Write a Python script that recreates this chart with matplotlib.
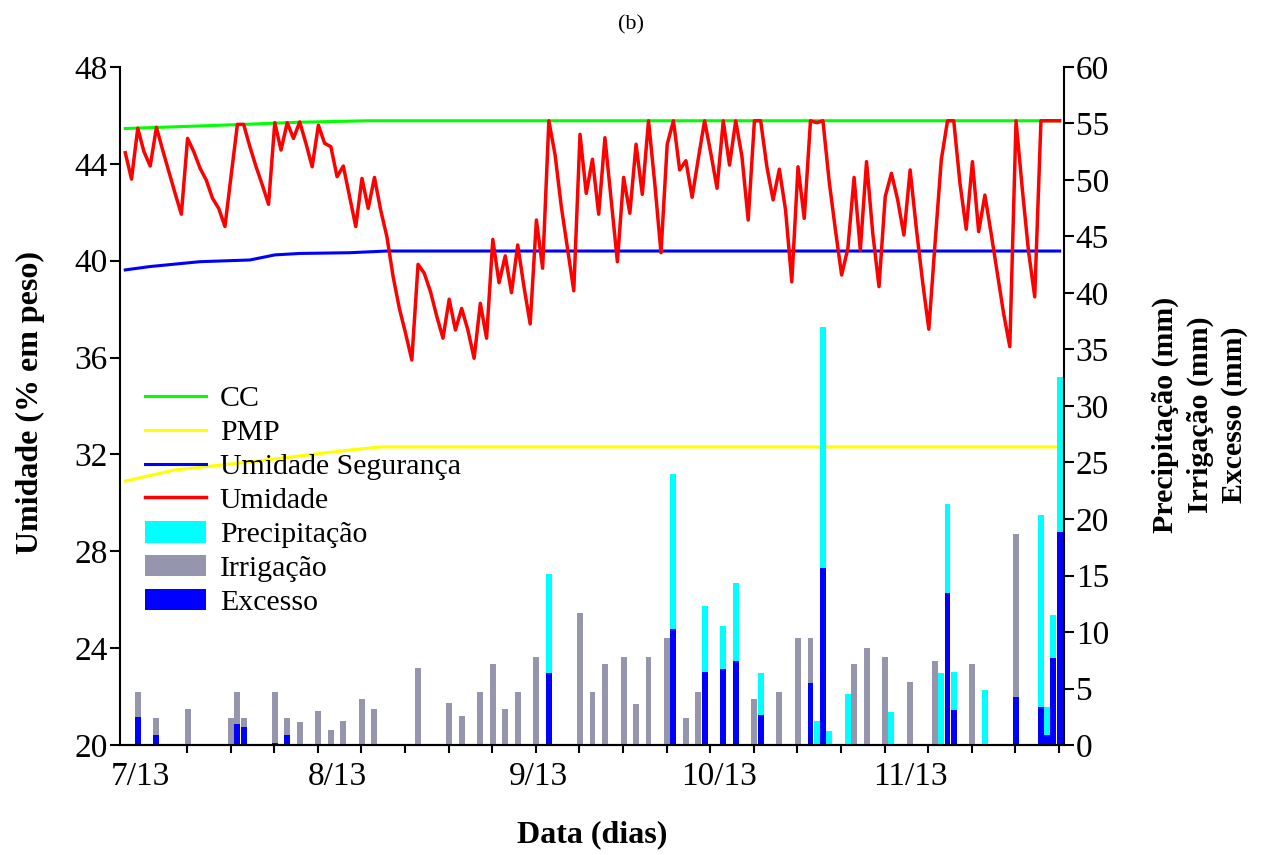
import numpy as np
import matplotlib.pyplot as plt
from matplotlib.lines import Line2D
from matplotlib.patches import Patch

plt.rcParams['font.family'] = ['Liberation Serif', 'DejaVu Serif']

# daily soil moisture (% em peso), days 2..152
days = np.arange(2, 153)
umidade = [44.46, 43.37, 45.47, 44.50, 43.91, 45.51, 44.57, 43.68, 42.78, 41.92,
           45.05, 44.50, 43.82, 43.33, 42.58, 42.16, 41.41, 43.54, 45.63, 45.63,
           44.71, 43.88, 43.13, 42.33, 45.70, 44.57, 45.70, 45.05, 45.73, 44.85,
           43.88, 45.60, 44.85, 44.71, 43.47, 43.91, 42.65, 41.41, 43.40, 42.16,
           43.44, 42.09, 40.99, 39.34, 38.03, 37.00, 35.90, 39.85, 39.48, 38.72,
           37.71, 36.80, 38.41, 37.14, 38.03, 37.14, 35.97, 38.24, 36.80, 40.88,
           39.09, 40.20, 38.68, 40.65, 38.93, 37.39, 41.68, 39.69, 45.78, 44.37,
           42.23, 40.51, 38.76, 45.22, 42.78, 44.19, 41.92, 45.08, 42.51, 39.96,
           43.44, 41.96, 44.81, 42.74, 45.78, 43.20, 40.33, 44.81, 45.78, 43.75,
           44.13, 42.62, 44.23, 45.78, 44.44, 42.99, 45.78, 43.95, 45.78, 44.30,
           41.68, 45.78, 45.78, 43.88, 42.51, 43.78, 42.09, 39.13, 43.88, 41.75,
           45.78, 45.70, 45.78, 43.28, 41.28, 39.41, 40.51, 43.44, 40.44, 44.09,
           41.13, 38.93, 42.65, 43.61, 42.51, 41.06, 43.75, 41.32, 39.13, 37.17,
           40.72, 44.16, 45.78, 45.78, 43.20, 41.30, 44.09, 41.20, 42.71, 41.13,
           39.48, 37.83, 36.45, 45.78, 42.98, 40.40, 38.51, 45.78, 45.78, 45.78,
           45.78]

cc_days = [2, 10, 21, 30, 41, 152]
cc_vals = [45.46, 45.53, 45.63, 45.72, 45.78, 45.78]
seg_days = [2, 6, 14, 22, 26, 30, 38, 44, 152]
seg_vals = [39.62, 39.76, 39.96, 40.03, 40.24, 40.30, 40.33, 40.40, 40.40]
pmp_days = [2, 10, 22, 30, 38, 43, 152]
pmp_vals = [30.90, 31.36, 31.69, 31.94, 32.18, 32.31, 32.31]

# bars (mm)
prec_days = [70, 90, 95, 98, 100, 104, 113, 114, 115, 118, 125, 133, 134, 135, 140, 149, 150, 151, 152]
prec_vals = [15.1, 23.95, 12.33, 10.53, 14.31, 6.34, 2.12, 36.96, 1.27, 4.51, 2.95, 6.34, 21.33, 6.49,
             4.87, 20.32, 3.33, 11.5, 32.54]
irr_days = [4, 7, 12, 19, 20, 21, 26, 28, 30, 33, 35, 37, 40, 42, 49, 54, 56, 59, 61, 63, 65, 68,
            75, 77, 79, 82, 84, 86, 89, 92, 94, 103, 107, 110, 112, 119, 121, 124, 128, 132, 138, 145]
irr_vals = [4.72, 2.42, 3.22, 2.42, 4.72, 2.42, 4.72, 2.42, 2.04, 3.04, 1.33, 2.15, 4.04, 3.22, 6.84,
            3.72, 2.60, 4.72, 7.14, 3.22, 4.72, 7.82, 11.71, 4.72, 7.14, 7.82, 3.60, 7.82, 9.44, 2.42,
            4.72, 4.04, 4.72, 9.44, 9.44, 7.14, 8.61, 7.82, 5.54, 7.46, 7.14, 18.64]
exc_days = [4, 7, 20, 21, 26, 28, 70, 90, 95, 98, 100, 104, 112, 114, 134, 135, 145, 149, 150, 151, 152]
exc_vals = [2.51, 0.86, 1.86, 1.62, 0.2, 0.86, 6.34, 10.24, 6.46, 6.70, 7.46, 2.65, 5.46, 15.63, 13.48,
            3.10, 4.22, 3.39, 0.89, 7.67, 18.88]

month_pos = [4.4, 36.0, 68.3, 97.3, 128.1]
month_labels = ['7/13', '8/13', '9/13', '10/13', '11/13']

green, yellow, blue, red = '#00FF00', '#FFFF00', '#0000FF', '#FF0000'
cyan, gray = '#00FFFF', '#9595AD'

fig = plt.figure(figsize=(12.69, 8.55), dpi=100)
ax = fig.add_axes([119.5/1269, 1-745/855, (1064-119.5)/1269, (745-67)/855])
ax2 = ax.twinx()

ax.plot(cc_days, cc_vals, color=green, lw=2.2)
ax.plot(pmp_days, pmp_vals, color=yellow, lw=2.2)
ax.plot(seg_days, seg_vals, color=blue, lw=2.2)
ax.plot(days, umidade, color=red, lw=2.5)

ax2.bar(prec_days, prec_vals, width=0.95, color=cyan)
ax2.bar(irr_days, irr_vals, width=0.95, color=gray)
ax2.bar(exc_days, exc_vals, width=0.95, color=blue)

ax.set_xlim(1.07, 152.7)
ax.set_ylim(20, 48)
ax.set_yticks(range(20, 49, 4))
ax2.set_ylim(0, 60)
ax2.set_yticks(range(0, 61, 5))

ax.set_xticks(month_pos)
ax.set_xticklabels(month_labels)
ax.set_xticks(np.arange(11.9, 152.5, 7), minor=True)
ax.tick_params(axis='x', which='major', length=0, pad=12, labelsize=24)
ax.tick_params(axis='x', which='minor', length=6, width=1.5)
ax.tick_params(axis='y', length=7, width=1.5, pad=1.5, labelsize=24)
ax2.tick_params(axis='y', length=7, width=1.5, pad=1.5, labelsize=24)

for a in (ax, ax2):
    a.spines['top'].set_visible(False)
    for s in a.spines.values():
        s.set_linewidth(1.5)
ax.spines['right'].set_visible(False)
ax2.spines['left'].set_visible(False)

handles = [Line2D([], [], color=green, lw=2.2),
           Line2D([], [], color=yellow, lw=2.2),
           Line2D([], [], color=blue, lw=2.2),
           Line2D([], [], color=red, lw=2.5),
           Patch(facecolor=cyan), Patch(facecolor=gray), Patch(facecolor=blue)]
labels = ['CC', 'PMP', 'Umidade Segurança', 'Umidade', 'Precipitação', 'Irrigação', 'Excesso']
ax2.legend(handles, labels, loc='upper left', bbox_to_anchor=(145/1269, 1-385/855),
           bbox_transform=fig.transFigure, frameon=False, fontsize=21.5,
           handlelength=2.05, handleheight=0.75, handletextpad=0.45,
           labelspacing=0.22, borderpad=0, borderaxespad=0)

fig.text(631/1269, 1-25/855, '(b)', ha='center', va='center', fontsize=16)
fig.text(592/1269, 1-835/855, 'Data (dias)', ha='center', va='center',
         fontsize=23, fontweight='bold')
fig.text(30/1269, 1-402/855, 'Umidade (% em peso)', rotation=90, ha='center',
         va='center', fontsize=23, fontweight='bold')
fig.text(1200/1269, 1-415/855, 'Precipitação (mm)\nIrrigação (mm)\nExcesso (mm)',
         rotation=90, ha='center', va='center', multialignment='center',
         fontsize=21.5, fontweight='bold', linespacing=1.35)

fig.savefig('out.png', dpi=100)
